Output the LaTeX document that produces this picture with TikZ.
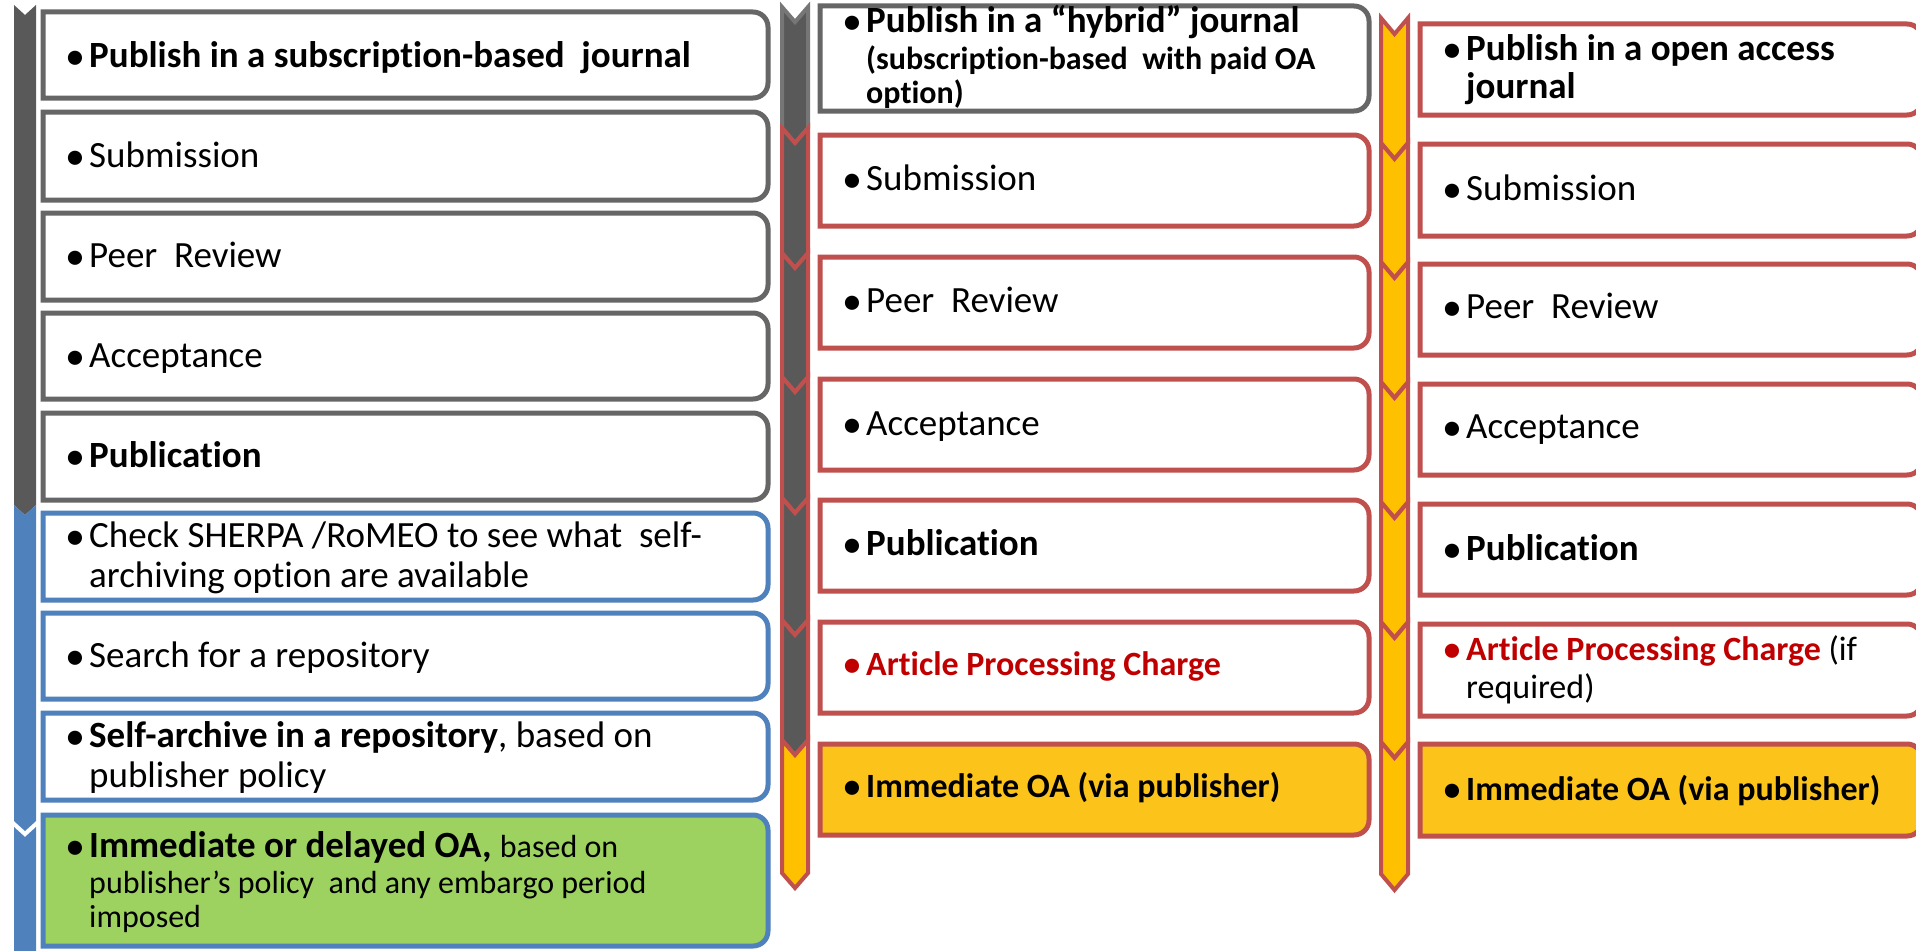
\documentclass[tikz,border=0pt]{standalone}
\usepackage{fontspec}
\setmainfont{Carlito}[Ligatures={NoCommon,NoContextual}]
\definecolor{gbord}{HTML}{666666}
\definecolor{dgray}{HTML}{595959}
\definecolor{lgray}{HTML}{767676}
\definecolor{oared}{HTML}{C0504D}
\definecolor{oablue}{HTML}{4F81BD}
\definecolor{oagold}{HTML}{FFC000}
\definecolor{boxgold}{HTML}{FCC41A}
\definecolor{oagreen}{HTML}{9DD260}
\definecolor{apcred}{HTML}{C00000}
\newcommand{\rbox}[5]{%
  \draw[#1] (#2,-#3) -- ({#4-15},-#3) arc[start angle=90,end angle=0,radius=15pt]
    -- (#4,{-#5+15}) arc[start angle=0,end angle=-90,radius=15pt] -- (#2,-#5) -- cycle;}
\newcommand{\chev}[6]{%
  \draw[#1] (#2,-#4) -- ({(#2+#3)/2},{-#4-#6}) -- (#3,-#4) -- (#3,-#5)
    -- ({(#2+#3)/2},{-#5-#6}) -- (#2,-#5) -- cycle;}
\newcommand{\bul}{\makebox[25pt][l]{\hspace*{1pt}\raisebox{-2pt}{\fontsize{40}{40}\selectfont •}}}
\tikzset{
  txt/.style={anchor=base west, inner sep=0pt, font=\fontsize{37}{40}\selectfont},
  sml/.style={anchor=base west, inner sep=0pt, font=\fontsize{32}{36}\selectfont},
  mid/.style={anchor=base west, inner sep=0pt, font=\fontsize{34}{38}\selectfont},
  graybox/.style={draw=gbord, line width=5pt, fill=white},
  bluebox/.style={draw=oablue, line width=5pt, fill=white},
  greenbox/.style={draw=oablue, line width=5pt, fill=oagreen},
  redbox/.style={draw=oared, line width=5pt, fill=white},
  goldbox/.style={draw=oared, line width=5pt, fill=boxgold},
  graystrip/.style={fill=dgray, draw=none},
  bluestrip/.style={fill=oablue, draw=none},
  graychev/.style={fill=dgray, draw=lgray, line width=4pt},
  redchev/.style={fill=dgray, draw=oared, line width=4pt},
  goldchev/.style={fill=oagold, draw=oared, line width=4pt},
}
\begin{document}
\begin{tikzpicture}[x=1pt,y=1pt]
\useasboundingbox (0,0) rectangle (1916,-950);
\fill[white] (0,0) rectangle (1916,-950);
\clip (0,0) rectangle (1916,-950);

% ---------- left strip ----------
\chev{graystrip}{14}{36}{5}{505}{10}
\chev{bluestrip}{14}{36}{505}{821}{10}
\chev{bluestrip}{14}{36}{827}{970}{10}

% ---------- left boxes ----------
\rbox{graybox}{43}{12}{768}{98}
\rbox{graybox}{43}{112}{768}{200}
\rbox{graybox}{43}{213}{768}{300}
\rbox{graybox}{43}{313}{768}{399}
\rbox{graybox}{43}{413}{768}{500}
\rbox{bluebox}{43}{513}{768}{600}
\rbox{bluebox}{43}{613}{768}{699}
\rbox{bluebox}{43}{713}{768}{800}
\rbox{greenbox}{43}{815}{768}{946}

\node[txt] (l1) at (64,-67) {\bul\textbf{Publish in a subscription-based\ \ journal}};
\node[txt] (l2) at (64,-167) {\bul Submission};
\node[txt] (l3) at (64,-267) {\bul Peer\ \ Review};
\node[txt] (l4) at (64,-367) {\bul Acceptance};
\node[txt] (l5) at (64,-467) {\bul\textbf{Publication}};
\node[txt] (l6) at (64,-547) {\bul Check SHERPA /RoMEO to see what\ \ self-};
\node[txt] (l6b) at (89,-587) {archiving option are available};
\node[txt] (l7) at (64,-667) {\bul Search for a repository};
\node[txt] (l8) at (64,-747) {\bul\textbf{Self-archive in a repository}, based on};
\node[txt] (l8b) at (89,-787) {publisher policy};
\node[txt] (l9) at (64,-857) {\bul\textbf{Immediate or delayed OA,} {\fontsize{32}{36}\selectfont based on}};
\node[sml] (l9b) at (89,-893) {publisher’s policy\ \ and any embargo period};
\node[sml] (l9c) at (89,-927) {imposed};

% ---------- middle strip ----------
\chev{graychev}{782}{808}{7}{128}{15}
\chev{redchev}{782}{808}{128}{253}{15}
\chev{redchev}{782}{808}{253}{377}{15}
\chev{redchev}{782}{808}{377}{498}{15}
\chev{redchev}{782}{808}{498}{620}{15}
\chev{redchev}{782}{808}{620}{740}{15}
\chev{goldchev}{782}{808}{740}{873}{15}

% ---------- middle boxes ----------
\rbox{graybox}{820}{6}{1369}{111}
\rbox{redbox}{820}{135}{1369}{226}
\rbox{redbox}{820}{257}{1369}{348}
\rbox{redbox}{820}{379}{1369}{470}
\rbox{redbox}{820}{500}{1369}{591}
\rbox{redbox}{820}{622}{1369}{713}
\rbox{goldbox}{820}{744}{1369}{835}

\node[txt] (m1) at (841,-33) {\bul\textbf{Publish in a “hybrid” journal}};
\node[sml] (m1b) at (866,-70) {\textbf{(subscription-based\ \ with paid OA}};
\node[sml] (m1c) at (866,-103) {\textbf{option)}};
\node[txt] (m2) at (841,-190) {\bul Submission};
\node[txt] (m3) at (841,-312) {\bul Peer\ \ Review};
\node[txt] (m4) at (841,-435) {\bul Acceptance};
\node[txt] (m5) at (841,-555) {\bul\textbf{Publication}};
\node[mid] (m6) at (841,-675) {\color{apcred}\bul\textbf{Article Processing Charge}};
\node[mid] (m7) at (841,-797) {\bul\textbf{Immediate OA (via publisher)}};

% ---------- right strip ----------
\chev{goldchev}{1381}{1408}{18}{143}{16}
\chev{goldchev}{1381}{1408}{143}{262}{16}
\chev{goldchev}{1381}{1408}{262}{382}{16}
\chev{goldchev}{1381}{1408}{382}{502}{16}
\chev{goldchev}{1381}{1408}{502}{622}{16}
\chev{goldchev}{1381}{1408}{622}{742}{16}
\chev{goldchev}{1381}{1408}{742}{874}{16}

% ---------- right boxes ----------
\rbox{redbox}{1420}{24}{1922}{115}
\rbox{redbox}{1420}{144}{1922}{236}
\rbox{redbox}{1420}{264}{1922}{355}
\rbox{redbox}{1420}{384}{1922}{475}
\rbox{redbox}{1420}{504}{1922}{595}
\rbox{redbox}{1420}{624}{1922}{716}
\rbox{goldbox}{1420}{744}{1922}{836}

\node[txt] (r1) at (1441,-60) {\bul\textbf{Publish in a open access}};
\node[txt] (r1b) at (1466,-98) {\textbf{journal}};
\node[txt] (r2) at (1441,-200) {\bul Submission};
\node[txt] (r3) at (1441,-318) {\bul Peer\ \ Review};
\node[txt] (r4) at (1441,-438) {\bul Acceptance};
\node[txt] (r5) at (1441,-560) {\bul\textbf{Publication}};
\node[mid] (r6) at (1441,-660) {\color{apcred}\bul\textbf{Article Processing Charge} \color{black}(if};
\node[mid] (r6b) at (1466,-698) {required)};
\node[mid] (r7) at (1441,-800) {\bul\textbf{Immediate OA (via publisher)}};
\end{tikzpicture}
\end{document}
